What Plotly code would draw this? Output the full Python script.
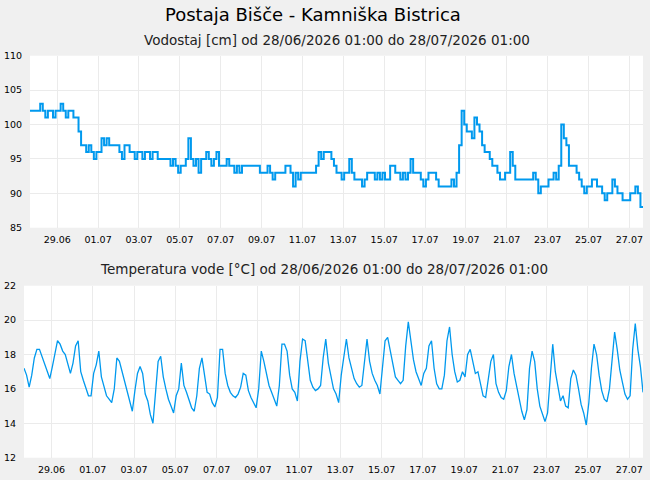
import pandas as pd
import plotly.graph_objects as go

# 3-hourly samples starting 28/06/2026 01:00
start = "2026-06-28 01:00"

level_cm = [
    102, 102, 102, 102, 103, 102, 101, 102,
    102, 101, 102, 102, 103, 102, 101, 102,
    102, 101, 101, 99, 97, 97, 96, 97,
    96, 95, 96, 96, 98, 97, 98, 97,
    97, 97, 97, 96, 95, 97, 97, 96,
    96, 95, 96, 96, 95, 96, 96, 95,
    96, 96, 95, 95, 95, 95, 95, 94,
    95, 94, 93, 94, 94, 95, 98, 95,
    94, 95, 93, 95, 95, 96, 95, 94,
    95, 96, 94, 94, 94, 95, 94, 94,
    93, 94, 93, 94, 94, 94, 94, 94,
    94, 94, 93, 93, 93, 94, 93, 92,
    93, 93, 93, 93, 94, 94, 93, 91,
    93, 92, 93, 93, 93, 93, 93, 93,
    94, 96, 95, 96, 96, 96, 95, 94,
    93, 93, 92, 93, 93, 95, 93, 92,
    92, 92, 91, 92, 93, 93, 93, 92,
    93, 92, 93, 92, 92, 94, 94, 93,
    93, 92, 93, 92, 93, 95, 93, 93,
    93, 92, 91, 92, 93, 93, 93, 92,
    91, 91, 91, 91, 91, 92, 91, 93,
    97, 102, 100, 99, 99, 98, 101, 100,
    99, 97, 96, 96, 95, 94, 94, 93,
    92, 92, 93, 93, 96, 94, 92, 92,
    92, 92, 92, 92, 92, 93, 92, 90,
    91, 91, 91, 92, 92, 93, 92, 94,
    100, 98, 97, 94, 94, 94, 93, 92,
    91, 90, 91, 91, 92, 92, 91, 91,
    90, 89, 90, 90, 92, 91, 90, 90,
    89, 89, 89, 90, 90, 91, 90, 88,
    88,
]

temp_c = [
    17.2, 16.8, 16.1, 16.8, 17.8, 18.3, 18.3, 17.9,
    17.5, 17.1, 16.6, 17.3, 18.1, 18.8, 18.6, 18.2,
    18.0, 17.5, 16.9, 17.5, 18.5, 18.8, 17.0, 16.5,
    16.1, 15.6, 15.6, 16.9, 17.4, 18.2, 16.7, 16.2,
    15.6, 15.4, 15.2, 16.0, 17.8, 17.6, 17.0, 16.4,
    15.8, 15.3, 14.7, 15.9, 16.9, 17.3, 16.9, 15.7,
    15.3, 14.5, 14.0, 15.8, 17.6, 17.9, 16.7, 16.0,
    15.4, 15.0, 14.6, 15.6, 16.0, 17.5, 16.2, 15.8,
    15.3, 14.9, 14.7, 15.6, 17.2, 17.8, 16.8, 15.8,
    15.7, 15.2, 14.95, 15.5, 18.3, 18.3, 16.9, 16.2,
    15.8, 15.6, 15.5, 15.7, 16.1, 16.9, 16.8, 15.9,
    15.5, 15.2, 14.9, 16.0, 18.2, 17.6, 16.8, 16.2,
    15.8, 15.4, 15.0, 16.2, 18.6, 18.6, 18.2, 16.8,
    16.0, 15.8, 15.3, 17.6, 18.9, 18.8, 17.6, 16.5,
    16.1, 15.9, 16.0, 16.2, 17.8, 18.9, 17.5, 16.8,
    16.0, 15.7, 15.2, 16.8, 18.0, 18.9, 17.8, 17.2,
    16.6, 16.3, 16.1, 16.2, 17.6, 18.9, 17.6, 16.9,
    16.5, 16.2, 15.7, 17.2, 18.8, 19.0, 18.2, 17.4,
    16.7, 16.5, 16.3, 16.5, 18.5, 19.9, 18.9, 17.7,
    17.0, 16.6, 16.2, 16.9, 17.2, 18.5, 18.8, 17.2,
    16.3, 16.0, 16.0, 16.8, 18.8, 19.6, 18.0, 17.0,
    16.4, 16.5, 17.0, 16.7, 18.0, 18.3, 17.6, 16.9,
    17.0, 16.3, 15.6, 15.5, 16.6, 17.6, 18.0, 16.3,
    15.8, 15.5, 15.4, 15.9, 17.3, 18.0, 16.9, 16.2,
    15.3, 14.7, 14.2, 14.8, 17.2, 18.2, 17.6, 16.0,
    15.0, 14.5, 14.1, 14.6, 16.8, 18.6, 17.0, 16.1,
    15.3, 15.6, 15.0, 14.9, 16.6, 17.1, 16.8, 16.0,
    15.1, 14.6, 13.9, 15.2, 17.2, 18.6, 18.0, 16.8,
    15.9, 15.4, 15.25, 16.0, 17.9, 19.3, 18.3, 17.1,
    16.4, 15.7, 15.4, 15.6, 18.3, 19.8, 18.3, 17.3,
    15.8,
]

tick_dates = ["2026-06-29", "2026-07-01", "2026-07-03", "2026-07-05", "2026-07-07",
              "2026-07-09", "2026-07-11", "2026-07-13", "2026-07-15", "2026-07-17",
              "2026-07-19", "2026-07-21", "2026-07-23", "2026-07-25", "2026-07-27"]
tick_labels = ["29.06", "01.07", "03.07", "05.07", "07.07", "09.07", "11.07", "13.07",
               "15.07", "17.07", "19.07", "21.07", "23.07", "25.07", "27.07"]

title = "Postaja Bišče - Kamniška Bistrica"
sub1 = "Vodostaj [cm] od 28/06/2026 01:00 do 28/07/2026 01:00"
sub2 = "Temperatura vode [°C] od 28/06/2026 01:00 do 28/07/2026 01:00"

times_l = pd.date_range(start, periods=len(level_cm), freq="3h")
times_t = pd.date_range(start, periods=len(temp_c), freq="3h")
tickvals = [pd.Timestamp(d) + pd.Timedelta(hours=9) for d in tick_dates]

W, H = 650, 480
BLUE = "#0099ee"
FONT = "DejaVu Sans"

fig = go.Figure()
fig.add_trace(go.Scatter(x=times_l, y=level_cm, mode="lines", line_shape="hv",
                         line=dict(color=BLUE, width=2), xaxis="x", yaxis="y",
                         showlegend=False, hoverinfo="skip"))
fig.add_trace(go.Scatter(x=times_t, y=temp_c, mode="lines",
                         line=dict(color=BLUE, width=1.3), xaxis="x2", yaxis="y2",
                         showlegend=False, hoverinfo="skip"))

xr = ["2026-06-28 01:00", "2026-07-28 01:00"]
common_x = dict(type="date", range=xr, tickvals=tickvals, ticktext=tick_labels,
                showgrid=True, gridcolor="#ebebeb", gridwidth=1, zeroline=False,
                showline=False, ticks="outside", ticklen=3, tickcolor="rgba(0,0,0,0)",
                automargin=False,
                tickfont=dict(family=FONT, size=9.5, color="#000"))
common_y = dict(showgrid=True, gridcolor="#ebebeb", gridwidth=1, zeroline=False,
                showline=False, ticks="outside", ticklen=5, tickcolor="rgba(0,0,0,0)",
                automargin=False,
                tickfont=dict(family=FONT, size=9.5, color="#000"))

fig.update_layout(
    width=W, height=H,
    margin=dict(l=0, r=0, t=0, b=0, autoexpand=False),
    paper_bgcolor="#f0f0f0", plot_bgcolor="#ffffff",
    xaxis=dict(domain=[30 / W, 643 / W], anchor="y", **common_x),
    yaxis=dict(domain=[1 - 227.7 / H, 1 - 55.7 / H], anchor="x",
               range=[85, 110], dtick=5, tick0=85, **common_y),
    xaxis2=dict(domain=[24 / W, 643 / W], anchor="y2", **common_x),
    yaxis2=dict(domain=[1 - 457.7 / H, 1 - 285.7 / H], anchor="x2",
                range=[12, 22], dtick=2, tick0=12, **common_y),
    annotations=[
        dict(text=title, x=312.5 / W, y=1 - 14 / H, xref="paper", yref="paper",
             xanchor="center", yanchor="middle", showarrow=False,
             font=dict(family=FONT, size=18, color="#000")),
        dict(text=sub1, x=336.5 / W, y=1 - 40 / H, xref="paper", yref="paper",
             xanchor="center", yanchor="middle", showarrow=False,
             font=dict(family=FONT, size=13.5, color="#222")),
        dict(text=sub2, x=324 / W, y=1 - 269 / H, xref="paper", yref="paper",
             xanchor="center", yanchor="middle", showarrow=False,
             font=dict(family=FONT, size=13.5, color="#222")),
    ],
)

fig.write_html("out.html")
